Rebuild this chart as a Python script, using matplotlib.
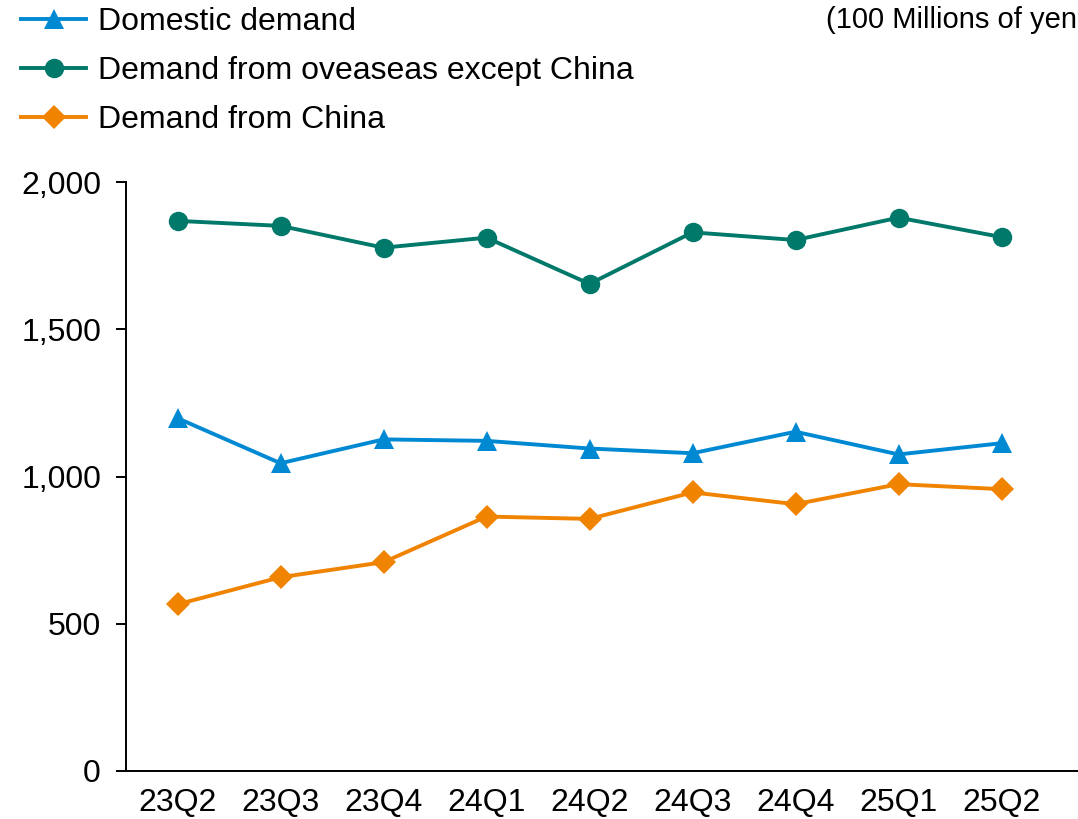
import matplotlib
matplotlib.use("Agg")
import matplotlib.pyplot as plt

plt.rcParams["font.family"] = ["Liberation Sans", "DejaVu Sans"]

quarters = ["23Q2", "23Q3", "23Q4", "24Q1", "24Q2", "24Q3", "24Q4", "25Q1", "25Q2"]
domestic = [1198, 1045, 1126, 1121, 1095, 1079, 1152, 1075, 1113]
overseas_ex_china = [1868, 1851, 1777, 1811, 1654, 1829, 1803, 1879, 1813]
china = [566, 658, 709, 864, 856, 946, 906, 974, 957]

series_labels = ["Domestic demand", "Demand from oveaseas except China", "Demand from China"]
series_colors = ["#0089D3", "#00786A", "#F08300"]
series_markers = ["^", "o", "D"]
series_sizes = [14, 14, 12]

W, H = 1078, 819
fig = plt.figure(figsize=(W / 100, H / 100), dpi=100)
ax = fig.add_axes([126 / W, (H - 771) / H, (W - 126) / W, (771 - 182) / H])

x = list(range(len(quarters)))
for vals, lab, col, mk, ms in zip([domestic, overseas_ex_china, china],
                                  series_labels, series_colors, series_markers, series_sizes):
    ax.plot(x, vals, color=col, marker=mk, markersize=ms, linewidth=2.8,
            markeredgewidth=0, label=lab, clip_on=False)

ax.set_xlim(-0.5, -0.5 + (W - 126) / 103.0)
ax.set_ylim(0, 2000)
ax.set_yticks([0, 500, 1000, 1500, 2000])
ax.set_yticklabels(["0", "500", "1,000", "1,500", "2,000"])
ax.set_xticks(x)
ax.set_xticklabels(quarters)

for s in ["top", "right"]:
    ax.spines[s].set_visible(False)
for s in ["left", "bottom"]:
    ax.spines[s].set_linewidth(1.4)
    ax.spines[s].set_color("black")

ax.tick_params(axis="y", direction="out", length=7, width=1.4, labelsize=23, pad=11)
ax.tick_params(axis="x", length=0, labelsize=23, pad=12)

fig.legend(loc="upper left", bbox_to_anchor=(21 / W, 1 - 7 / H), frameon=False,
           fontsize=23, handlelength=2.05, handletextpad=0.35, labelspacing=0.6,
           borderpad=0, borderaxespad=0)

fig.text(826 / W, 1 - 20 / H, "(100 Millions of yen", fontsize=21, va="center", ha="left")

fig.savefig("out.png", dpi=100)
